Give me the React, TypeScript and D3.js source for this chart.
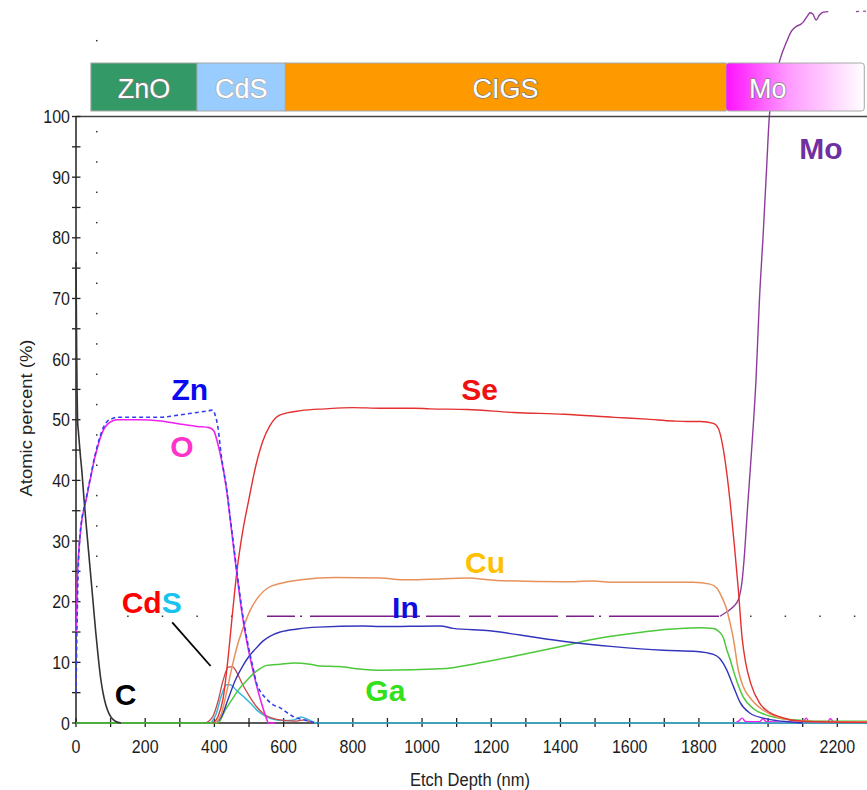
import React from "react";
import * as d3 from "d3";

type P = [number, number];

// ---------- data (depth nm, atomic %) ----------
const C_DATA: P[] = [[0,76],[0.8,70],[1.8,62],[3,55],[4.5,50],[7,48],[12,44.5],[17,41.5],[23,37],[29,33],[36,28.5],[43,24],[50,19.5],[57,15],[64,11],[71,7.5],[78,5],[86,3],[95,1.6],[105,0.7],[115,0.25],[130,0]];
const O_DATA: P[] = [[0,15],[2,18],[4,24],[7,27.5],[12,31],[17,33.5],[24,35.5],[31,37.3],[38,39.3],[45,41.2],[52,43.2],[60,45],[70,47],[79,48.3],[90,49.2],[105,49.8],[120,50],[180,50],[245,49.8],[300,49.3],[350,48.9],[385,48.7],[398,48.2],[410,46],[420,43.5],[435,38.5],[450,31.5],[465,24.5],[480,18],[495,13],[510,9],[525,5.5],[540,2.5],[550,0.8],[556,0],[575,0]];
const O_TAIL: P[] = [[1905,0],[1915,0.3],[1925,0.8],[1935,0.2],[1975,0.2],[1985,0.7],[1995,0.2],[2100,0.1],[2110,0.8],[2120,0.1],[2170,0.1],[2180,0.7],[2190,0]];
const ZN_DATA: P[] = [[0,5],[1,9],[2,13],[3,16],[5,22],[8,27.5],[12,31.2],[17,33.7],[24,35.7],[31,37.5],[38,39.5],[45,41.4],[52,43.4],[60,45.3],[70,47.3],[79,48.7],[90,49.7],[105,50.2],[120,50.4],[240,50.4],[300,50.8],[350,51.2],[385,51.5],[395,51.6],[402,50.8],[410,48.8],[420,44],[435,38.7],[450,31.8],[465,25],[480,18.5],[495,13.5],[510,9.5],[522,6.5],[535,5],[550,4],[570,3],[590,2.5],[610,1.7],[630,1],[660,0.5],[690,0.1],[700,0]];
const SE_DATA: P[] = [[395,0],[410,1],[425,4],[440,11],[452,18],[465,25],[480,31],[500,37],[520,42.5],[540,46.5],[560,49],[590,50.8],[650,51.5],[720,51.8],[800,52],[880,51.9],[975,51.9],[1023,51.8],[1130,51.7],[1265,51.2],[1410,50.9],[1555,50.4],[1650,50.1],[1725,49.8],[1765,49.7],[1805,49.7],[1842,49.4],[1856,48.6],[1868,46],[1880,41.5],[1892,35.5],[1903,29],[1914,22],[1925,14],[1935,10],[1950,6.5],[1975,3.3],[2005,1.7],[2035,1.0],[2065,0.5],[2100,0.3],[2150,0.2],[2290,0.1]];
const CU_DATA: P[] = [[405,0],[420,1.5],[435,5],[450,9],[465,12.5],[480,15.2],[495,17.5],[510,19.3],[530,21],[555,22.3],[590,23],[650,23.6],[750,24],[878,23.9],[956,23.6],[1023,23.7],[1130,23.9],[1216,23.5],[1408,23.3],[1495,23.4],[1553,23.2],[1784,23.2],[1832,22.9],[1851,22.3],[1866,20.8],[1880,18.8],[1890,16.5],[1900,13.8],[1914,8.7],[1928,6.0],[1953,3.8],[1986,2.1],[2025,1.0],[2063,0.5],[2120,0.3],[2290,0.2]];
const IN_DATA: P[] = [[405,0],[420,1],[440,4],[460,7],[480,9.2],[500,11],[520,12.3],[540,13.5],[560,14.3],[590,15],[640,15.5],[700,15.8],[830,16],[878,15.9],[1052,16],[1090,15.6],[1196,15.2],[1283,14.5],[1418,13.4],[1553,12.6],[1697,12],[1794,11.8],[1842,11.3],[1861,10.6],[1880,8.8],[1900,6],[1919,3.4],[1948,1.6],[1986,0.8],[2025,0.4],[2060,0.2],[2100,0]];
const GA_DATA: P[] = [[0,0],[410,0],[430,2],[450,3.8],[470,5.5],[490,6.8],[512,8.1],[530,8.9],[551,9.5],[590,9.7],[630,9.9],[676,9.7],[705,9.4],[760,9.3],[821,8.9],[878,8.7],[1071,9.0],[1148,9.7],[1283,11.2],[1408,12.7],[1495,13.8],[1572,14.5],[1649,15.1],[1745,15.6],[1803,15.7],[1842,15.6],[1861,14.9],[1871,14],[1880,12.2],[1890,10.5],[1900,8.6],[1909,7],[1928,4.3],[1957,2.4],[1996,1.3],[2034,0.8],[2083,0.5],[2150,0.3],[2290,0.3]];
const CD_DATA: P[] = [[375,0],[395,1],[410,3.5],[425,7],[440,9.2],[452,9.3],[465,8.3],[480,6.5],[500,4.5],[520,2.8],[545,1.4],[580,0.6],[630,0.3],[660,0.5],[680,0]];
const S_DATA: P[] = [[390,0],[405,1.5],[420,4.5],[435,6.3],[445,6.3],[465,5.3],[485,4.3],[505,3.2],[525,2],[545,1.2],[570,0.6],[600,0.4],[630,0.5],[650,1.0],[670,0.6],[695,0],[2290,0]];
const MO_FLAT: P[] = [[552,17.6],[1861,17.6]];
const MO_RISE: P[] = [[1861,17.6],[1880,18.3],[1900,19.2],[1915,20.5],[1925,23.5],[1932,28],[1940,35],[1953,45.5],[1965,56.5],[1975,69.8],[1986,80.8],[1996,91.8],[2004,100.3],[2010,102.5],[2033,109.1],[2054,112.4],[2068,114.1],[2083,114.9],[2094,115.2],[2102,115.6],[2114,116.6],[2121,117.1],[2129,116.9],[2139,115.9],[2148,116.7],[2160,117.2],[2174,117.3]];
const MO_TAIL: P[] = [[2254,117.3],[2290,117.4]];

const X_TICKS = d3.range(0, 2201, 100);
const X_LABELS = d3.range(0, 2201, 200);
const Y_TICKS = d3.range(0, 101, 5);
const Y_LABELS = d3.range(0, 101, 10);
const DOT_COL_Y = [...d3.range(22.5, 100, 5), 112.5];
const DOT_ROW_X = [150, 250, 350, 450, 1950, 2050, 2150, 2250];

const LAYER_NAMES = ["ZnO", "CdS", "CIGS", "Mo"];
const LAYER_BOUNDS: P[] = [[43, 350], [350, 605], [605, 1878], [1878, 2278]];
const LAYER_COLORS = ["#339966", "#99ccff", "#ff9900", "url(#moGrad)"];

const FONT = "Arial, 'Liberation Sans', Helvetica, sans-serif";

export default function App() {
  const W = 867, H = 790;
  const x = d3.scaleLinear().domain([0, 2200]).range([76, 837.3]);
  const y = d3.scaleLinear().domain([0, 100]).range([723, 116.5]);
  const line = d3.line<P>().x(d => x(d[0])).y(d => y(d[1])).curve(d3.curveMonotoneX);
  const lin = d3.line<P>().x(d => x(d[0])).y(d => y(d[1]));

  const series = [
    { d: O_TAIL, c: "#ee22ee", w: 1.4 },
    { d: S_DATA, c: "#3cb8dc", w: 1.5 },
    { d: CD_DATA, c: "#c94a4a", w: 1.3 },
    { d: GA_DATA, c: "#4cc83a", w: 1.5 },
    { d: IN_DATA, c: "#3535bb", w: 1.4 },
    { d: CU_DATA, c: "#e8905c", w: 1.5 },
    { d: SE_DATA, c: "#e33030", w: 1.4 },
    { d: O_DATA, c: "#ee22ee", w: 1.6 },
    { d: C_DATA, c: "#333333", w: 1.6 },
  ];

  const bandTop = 63, bandH = 48;

  const tickText = (key: any, tx: number, ty: number, s: string, anchor: string) => (
    <text key={key} transform={`translate(${tx},${ty}) scale(1,1.15)`} fontSize={16} fontFamily={FONT}
      textAnchor={anchor as any} fill="#1c1c1c">{s}</text>
  );

  const bigLabel = (t: string, xv: number, yv: number, color: string, anchor = "middle") => (
    <text x={x(xv)} y={y(yv)} fontSize={30} fontWeight="bold" fontFamily={FONT} fill={color} textAnchor={anchor as any}>{t}</text>
  );

  return (
    <div style={{ position: "absolute", left: 0, top: 0 }}>
      <svg width={W} height={H} style={{ display: "block", background: "#fff" }}>
        <defs>
          <linearGradient id="moGrad" x1="0" x2="1" y1="0" y2="0">
            <stop offset="0" stopColor="#ff10ff" />
            <stop offset="0.45" stopColor="#ff99ff" />
            <stop offset="1" stopColor="#ffffff" />
          </linearGradient>
        </defs>

        {/* dotted artefacts */}
        {DOT_COL_Y.map((v, i) => (
          <rect key={"dc" + i} x={x(60) - 0.75} y={y(v) - 0.75} width={1.5} height={1.5} fill="#333" />
        ))}
        {DOT_ROW_X.map((v, i) => (
          <rect key={"dr" + i} x={x(v) - 0.75} y={y(17.6) - 0.75} width={1.5} height={1.5} fill="#333" />
        ))}

        {/* Mo curve (goes above plot, under band) */}
        <path d={lin(MO_FLAT)!} fill="none" stroke="#7a1f8a" strokeWidth={1.4} strokeDasharray="28,5,2,8,110,6,34,9,22,7,60,8" />
        <path d={line(MO_RISE)!} fill="none" stroke="#8e3c9c" strokeWidth={1.4} />
        <path d={lin(MO_TAIL)!} fill="none" stroke="#8e3c9c" strokeWidth={1.2} strokeDasharray="3,4" />

        {/* layer band */}
        {LAYER_BOUNDS.map((b, i) => (
          <rect key={"l" + i} x={x(b[0])} y={bandTop} width={x(b[1]) - x(b[0])} height={bandH}
            fill={LAYER_COLORS[i]} stroke="#a8a8a8" strokeWidth={1} rx={i === 3 ? 3 : 0} />
        ))}
        {LAYER_BOUNDS.map((b, i) => (
          <text key={"lt" + i} x={i === 3 ? x(b[0]) + 42 : (x(b[0]) + x(b[1])) / 2} y={bandTop + 35}
            fontSize={27} fontFamily={FONT} textAnchor="middle" fill="#ffffff"
            stroke={i === 1 ? "#b0b0b0" : "#7c7c7c"} strokeWidth={1.4} paintOrder="stroke">{LAYER_NAMES[i]}</text>
        ))}

        {/* frame top line */}
        <line x1={x(0)} x2={W} y1={y(100)} y2={y(100)} stroke="#444" strokeWidth={1.6} />

        {/* axes */}
        <line x1={x(0)} x2={W} y1={y(0)} y2={y(0)} stroke="#222" strokeWidth={1.5} />
        <line x1={x(0)} x2={x(0)} y1={y(0)} y2={y(100)} stroke="#222" strokeWidth={1.5} />
        {X_TICKS.map(t => (
          <line key={"xt" + t} x1={x(t)} x2={x(t)} y1={y(0) - 5} y2={y(0) + 4} stroke="#222" strokeWidth={1.3} />
        ))}
        {Y_TICKS.map(t => (
          <line key={"yt" + t} x1={x(0) - 4} x2={x(0) + 4.5} y1={y(t)} y2={y(t)} stroke="#222" strokeWidth={1.3} />
        ))}
        {X_LABELS.map(t => tickText("xl" + t, x(t), y(0) + 30, String(t), "middle"))}
        {Y_LABELS.map(t => tickText("yl" + t, x(0) - 6, y(t) + 6.5, String(t), "end"))}

        <text transform={`translate(470,786) scale(1,1.1)`} fontSize={16.5} fontFamily={FONT} textAnchor="middle" fill="#222">Etch Depth (nm)</text>
        <text transform={`translate(32,418) rotate(-90) scale(1.12,1)`} fontSize={16.5} fontFamily={FONT} textAnchor="middle" fill="#222">Atomic percent (%)</text>

        {/* data lines */}
        {series.map((s, i) => (
          <path key={"s" + i} d={line(s.d)!} fill="none" stroke={s.c} strokeWidth={s.w} strokeLinejoin="round" />
        ))}
        <path d={line(ZN_DATA)!} fill="none" stroke="#3340ee" strokeWidth={1.6} strokeDasharray="4,3" />

        {/* CdS pointer */}
        <line x1={x(278)} y1={y(16.6)} x2={x(389)} y2={y(9.4)} stroke="#000" strokeWidth={1.8} />

        {/* element labels */}
        {bigLabel("Zn", 329, 53.3, "#0a0af0")}
        {bigLabel("O", 306, 43.9, "#ff33cc")}
        <text x={x(132)} y={y(18.1)} fontSize={30} fontWeight="bold" fontFamily={FONT}>
          <tspan fill="#ff0000">Cd</tspan><tspan fill="#19c3f0">S</tspan>
        </text>
        {bigLabel("C", 143, 3.0, "#000000")}
        {bigLabel("Se", 1166, 53.3, "#ee1111")}
        {bigLabel("Cu", 1182, 24.7, "#ffc000")}
        {bigLabel("In", 952, 17.3, "#1010dd")}
        {bigLabel("Ga", 894, 3.6, "#33e01a")}
        {bigLabel("Mo", 2153, 93, "#7030a0")}
      </svg>
    </div>
  );
}
